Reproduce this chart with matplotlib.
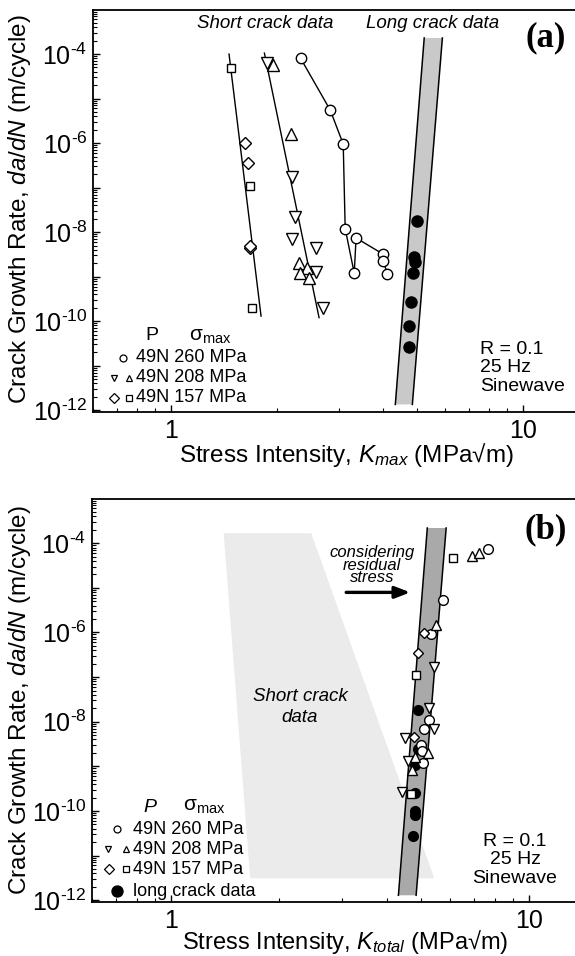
import matplotlib
matplotlib.use("Agg")
import matplotlib.pyplot as plt
import numpy as np
from matplotlib.ticker import LogLocator, FuncFormatter, NullFormatter

plt.rcParams['font.family'] = ['Liberation Sans', 'DejaVu Sans']
plt.rcParams['mathtext.fontset'] = 'custom'
plt.rcParams['mathtext.rm'] = 'Liberation Sans'
plt.rcParams['mathtext.it'] = 'Liberation Sans:italic'
plt.rcParams['mathtext.bf'] = 'Liberation Sans:bold'

# ---- panel (a): da/dN vs Kmax ----
k260 = [2.33, 2.83, 3.08, 3.12, 3.31, 3.35, 4.0, 4.0, 4.11]
r260 = [8.1e-5, 5.5e-6, 9.5e-7, 1.2e-8, 1.2e-9, 7.4e-9, 3.2e-9, 2.3e-9, 1.15e-9]

k208_dn = [1.87, 2.21, 2.25, 2.21, 2.58, 2.57, 2.70]
r208_dn = [6.2e-5, 1.7e-7, 2.2e-8, 6.9e-9, 4.4e-9, 1.26e-9, 2.0e-10]
k208_up = [1.94, 2.19, 2.30, 2.43, 2.32, 2.47]
r208_up = [5.6e-5, 1.6e-6, 2.0e-9, 1.6e-9, 1.2e-9, 9.3e-10]

k157_dia = [1.62, 1.655, 1.67, 1.68]
r157_dia = [1.0e-6, 3.5e-7, 4.4e-9, 4.8e-9]
k157_sq = [1.48, 1.68, 1.70]
r157_sq = [4.9e-5, 1.07e-7, 1.95e-10]

fit157_k = [1.46, 1.80]
fit157_r = [1.0e-4, 1.3e-10]
fit208_k = [1.84, 2.63]
fit208_r = [1.05e-4, 1.2e-10]

long_k = [5.0, 4.9, 4.93, 4.87, 4.81, 4.75, 4.72]
long_r = [1.8e-8, 2.8e-9, 2.1e-9, 1.2e-9, 2.7e-10, 7.8e-11, 2.6e-11]

band_r = [1.35e-12, 2.3e-4]
band_left = [4.33, 5.23]
band_right = [4.84, 5.89]

# ---- panel (b): da/dN vs Ktotal ----
kt260 = [7.68, 5.75, 5.32, 5.26, 5.09, 4.99, 5.02, 5.06]
rt260 = [7.3e-5, 5.3e-6, 9.1e-7, 1.1e-8, 7.0e-9, 3.0e-9, 2.2e-9, 1.17e-9]
kt208_dn = [5.43, 5.26, 5.43, 4.50, 4.59, 4.42]
rt208_dn = [1.65e-7, 2.0e-8, 7.0e-9, 4.3e-9, 1.35e-9, 2.6e-10]
kt208_up = [6.93, 7.25, 5.50, 5.22, 4.80, 4.71]
rt208_up = [5.1e-5, 6.0e-5, 1.44e-6, 1.95e-9, 1.6e-9, 8.1e-10]
kt157_dia = [5.09, 4.90, 4.77]
rt157_dia = [9.5e-7, 3.4e-7, 4.5e-9]
kt157_sq = [6.13, 4.83, 4.68]
rt157_sq = [4.6e-5, 1.1e-7, 2.35e-10]
kt_long = [4.90, 4.90, 4.81, 4.81, 4.78, 4.81, 4.72]
rt_long = [1.8e-8, 2.5e-9, 1.05e-9, 2.5e-10, 1.0e-10, 8.0e-11, 2.7e-11]

bandt_r = [1.29e-12, 2.19e-4]
bandt_left = [4.31, 5.19]
bandt_right = [4.83, 5.86]

short_k = [1.40, 2.46, 5.43, 1.66]
short_r = [1.67e-4, 1.67e-4, 3.1e-12, 3.1e-12]

arrow_k = [3.08, 4.65]
arrow_r = 7.9e-6

W, H = 575, 956
fig = plt.figure(figsize=(W / 100, H / 100), dpi=100)


def fx(x):
    return x / W


def fy(y):
    return 1 - y / H


def ylab(v, pos):
    e = int(round(np.log10(v)))
    if e % 2 == 0:
        return r'$\mathregular{10^{\text{-}%d}}$' % (-e)
    return ''


def setup(ax, xmax):
    ax.set_xscale('log')
    ax.set_yscale('log')
    ax.set_xlim(0.6, xmax)
    ax.set_ylim(10 ** -12.04, 10 ** -3.01)
    ax.spines['right'].set_visible(False)
    for s in ax.spines.values():
        s.set_linewidth(1.3)
    ax.xaxis.set_major_locator(LogLocator(base=10, numticks=20))
    ax.xaxis.set_minor_locator(LogLocator(base=10, subs=np.arange(2, 10), numticks=20))
    ax.yaxis.set_major_locator(LogLocator(base=10, numticks=20))
    ax.yaxis.set_minor_locator(LogLocator(base=10, subs=np.arange(2, 10), numticks=20))
    ax.xaxis.set_major_formatter(FuncFormatter(lambda v, p: '%d' % round(v)))
    ax.yaxis.set_major_formatter(FuncFormatter(ylab))
    ax.xaxis.set_minor_formatter(NullFormatter())
    ax.yaxis.set_minor_formatter(NullFormatter())
    ax.tick_params(which='both', direction='in', top=False, right=False)
    ax.tick_params(which='major', length=5, width=1, labelsize=18)
    ax.tick_params(axis='y', which='major', pad=4)
    ax.tick_params(axis='x', which='major', pad=5)
    ax.tick_params(which='minor', length=3, width=0.8)


open_mk = dict(mfc='white', mec='black', mew=1.0, ls='none', zorder=4)

# ================= panel (a) =================
ax = fig.add_axes([fx(93), fy(412), (577 - 93) / W, (412 - 10) / H])
setup(ax, 14.2)

ax.fill(band_left + band_right[::-1], band_r + band_r[::-1], color='#c9c9c9', lw=0, zorder=1)
ax.plot(band_left, band_r, color='black', lw=1.1, zorder=2)
ax.plot(band_right, band_r, color='black', lw=1.1, zorder=2)

ax.plot(fit157_k, fit157_r, color='black', lw=1.0, zorder=3)
ax.plot(fit208_k, fit208_r, color='black', lw=1.0, zorder=3)
ax.plot(k260, r260, color='black', lw=1.0, zorder=3)

ax.plot(k260, r260, marker='o', ms=7.5, **open_mk)
ax.plot(k208_dn, r208_dn, marker='v', ms=8, **open_mk)
ax.plot(k208_up, r208_up, marker='^', ms=8, **open_mk)
ax.plot(k157_dia, r157_dia, marker='D', ms=6, **open_mk)
ax.plot(k157_sq, r157_sq, marker='s', ms=5.5, **open_mk)
ax.plot(long_k, long_r, marker='o', ms=8, mfc='black', mec='black', ls='none', zorder=4)

fig.text(fx(265), fy(24), 'Short crack data', fontsize=13.5, style='italic', ha='center', va='center')
fig.text(fx(433), fy(24), 'Long crack data', fontsize=13.5, style='italic', ha='center', va='center')
fig.text(fx(546), fy(38), '(a)', fontsize=25, family='Liberation Serif', weight='bold', ha='center', va='center')

fig.text(fx(480), fy(368), 'R = 0.1\n25 Hz\nSinewave', fontsize=14, ha='left', va='center', linespacing=1.1)

# legend (a)
fig.text(fx(152), fy(336), 'P', fontsize=14, ha='center', va='center')
fig.text(fx(189), fy(336), r'$\mathregular{\sigma_{max}}$', fontsize=15, ha='left', va='center')
for yy, txt in [(358, '49N 260 MPa'), (378, '49N 208 MPa'), (398, '49N 157 MPa')]:
    fig.text(fx(136), fy(yy), txt, fontsize=13, ha='left', va='center')
leg_a = [(123, 358, 'o'), (114, 378, 'v'), (129, 378, '^'), (114, 398, 'D'), (129, 398, 's')]
for lx, ly, m in leg_a:
    ax.plot([fx(lx)], [fy(ly)], marker=m, ms=5 if m != 's' else 4.5, mfc='white', mec='black',
            mew=0.9, transform=fig.transFigure, clip_on=False)

fig.text(fx(20), fy(209), 'Crack Growth Rate, $\\it{da/dN}$ (m/cycle)', fontsize=17.5,
         rotation=90, ha='center', va='center')
fig.text(fx(346), fy(455), 'Stress Intensity, $K_{max}$ (MPa\u221am)', fontsize=17.5,
         ha='center', va='center')

# ================= panel (b) =================
ax = fig.add_axes([fx(92), fy(902), (577 - 92) / W, (902 - 499) / H])
setup(ax, 13.6)

ax.fill(short_k, short_r, color='#ebebeb', lw=0, zorder=0)
ax.fill(bandt_left + bandt_right[::-1], bandt_r + bandt_r[::-1], color='#a9a9a9', lw=0, zorder=1)
ax.plot(bandt_left, bandt_r, color='black', lw=1.1, zorder=2)
ax.plot(bandt_right, bandt_r, color='black', lw=1.1, zorder=2)

ax.plot(kt_long, rt_long, marker='o', ms=7, mfc='black', mec='black', ls='none', zorder=3)
ax.plot(kt260, rt260, marker='o', ms=7, **open_mk)
ax.plot(kt208_dn, rt208_dn, marker='v', ms=7.5, **open_mk)
ax.plot(kt208_up, rt208_up, marker='^', ms=7.5, **open_mk)
ax.plot(kt157_dia, rt157_dia, marker='D', ms=5.5, **open_mk)
ax.plot(kt157_sq, rt157_sq, marker='s', ms=5.5, **open_mk)

ax.annotate('', xy=(arrow_k[1], arrow_r), xytext=(arrow_k[0], arrow_r),
            arrowprops=dict(arrowstyle='-|>,head_length=0.9,head_width=0.35', lw=2.4,
                            color='black', shrinkA=0, shrinkB=0))

fig.text(fx(372), fy(565), 'considering\nresidual\nstress', fontsize=12, style='italic',
         ha='center', va='center', linespacing=0.78)
fig.text(fx(300), fy(707), 'Short crack\ndata', fontsize=13.5, style='italic',
         ha='center', va='center', linespacing=1.3)
fig.text(fx(546), fy(530), '(b)', fontsize=25, family='Liberation Serif', weight='bold', ha='center', va='center')

fig.text(fx(515), fy(860), 'R = 0.1\n25 Hz\nSinewave', fontsize=14, ha='center', va='center',
         multialignment='center', linespacing=1.1)

# legend (b)
fig.text(fx(150), fy(807), 'P', fontsize=14, style='italic', ha='center', va='center')
fig.text(fx(183), fy(807), r'$\mathregular{\sigma_{max}}$', fontsize=15, ha='left', va='center')
for yy, txt in [(829, '49N 260 MPa'), (849, '49N 208 MPa'), (869, '49N 157 MPa'),
                (891, 'long crack data')]:
    fig.text(fx(133), fy(yy), txt, fontsize=13, ha='left', va='center')
leg_b = [(117, 829, 'o', 'white'), (108, 849, 'v', 'white'), (126, 849, '^', 'white'),
         (109, 869, 'D', 'white'), (126, 869, 's', 'white'), (117, 891, 'o', 'black')]
for lx, ly, m, fc in leg_b:
    ms = 8 if fc == 'black' else (4.5 if m == 's' else 5)
    ax.plot([fx(lx)], [fy(ly)], marker=m, ms=ms, mfc=fc, mec='black',
            mew=0.9, transform=fig.transFigure, clip_on=False)

fig.text(fx(20), fy(700), 'Crack Growth Rate, $\\it{da/dN}$ (m/cycle)', fontsize=17.5,
         rotation=90, ha='center', va='center')
fig.text(fx(345), fy(942), 'Stress Intensity, $K_{total}$ (MPa\u221am)', fontsize=17,
         ha='center', va='center')

fig.savefig('out.png', dpi=100)
